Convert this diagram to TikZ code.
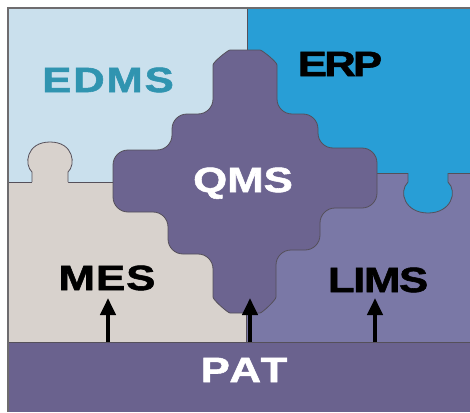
\documentclass[tikz,border=0pt]{standalone}
\usepackage{fontspec}
\setmainfont{Liberation Sans}
\newfontfamily\lblfam{Liberation Sans}[FakeStretch=1.25,FakeBold=1.6]
\usetikzlibrary{arrows.meta}
\definecolor{edmsbg}{RGB}{202,224,237}
\definecolor{erpbg}{RGB}{40,158,214}
\definecolor{qmsbg}{RGB}{108,100,144}
\definecolor{mesbg}{RGB}{216,210,205}
\definecolor{limsbg}{RGB}{122,120,166}
\definecolor{patbg}{RGB}{106,98,142}
\definecolor{edmstxt}{RGB}{48,148,176}
\definecolor{edgecol}{RGB}{85,80,90}
\definecolor{framecol}{RGB}{110,108,110}
\newcommand\lblfont[1]{\lblfam\bfseries\fontsize{35}{35}\selectfont\addfontfeature{LetterSpace=#1}}
\begin{document}
\begin{tikzpicture}[x=1pt,y=-1pt,
  edge/.style={draw=edgecol, line width=0.8pt},
  lbl/.style={anchor=base, inner sep=0pt},
  uparrow/.style={line width=4pt, -{Triangle[width=15pt,length=17pt]}}]
\useasboundingbox (0,0) rectangle (470,412);
\fill[white] (0,0) rectangle (470,412);
% regions
\fill[edmsbg] (7,7) rectangle (247,182);
\fill[erpbg] (247,7) rectangle (470,173);
\fill[mesbg] (7,182) rectangle (246,342);
\fill[limsbg] (246,173) rectangle (470,342);
\draw[edge] (247,7) -- (247,70);
\draw[edge] (7,182) -- (120,182);
\draw[edge] (370,173) -- (470,173);
\draw[edge] (246,300) -- (246,342);
% knob of MES into EDMS
\fill[mesbg] (32,183) -- (32,172) .. controls (24,165) and (26,142) .. (50,142) .. controls (74,142) and (76,165) .. (68,172) -- (68,183) -- cycle;
\draw[edge] (32,182) -- (32,172) .. controls (24,165) and (26,142) .. (50,142) .. controls (74,142) and (76,165) .. (68,172) -- (68,182);
% knob of ERP into LIMS
\fill[erpbg] (408,172) -- (408,182) .. controls (398,192) and (405,213) .. (428,213) .. controls (451,213) and (458,192) .. (448,182) -- (448,172) -- cycle;
\draw[edge] (408,173) -- (408,182) .. controls (398,192) and (405,213) .. (428,213) .. controls (451,213) and (458,192) .. (448,182) -- (448,173);
% QMS cross piece
\filldraw[fill=qmsbg, edge, rounded corners=15pt]
  (213,114) -- (213,80) .. controls (213,62) and (228,50) .. (245,50)
  .. controls (262,50) and (277,62) .. (277,80) -- (277,114)
  -- (318,114) -- (318,148) -- (377,148) -- (377,208) -- (320,208)
  -- (320,250) -- (276,250) -- (276,282)
  .. controls (276,300) and (262,313) .. (245,313)
  .. controls (228,313) and (213,300) .. (213,282)
  -- (213,254) -- (168,254) -- (168,212) -- (113,212) -- (113,150)
  -- (172,150) -- (172,114) -- cycle;
% PAT band
\fill[patbg] (7,342) rectangle (470,412);
\draw[edge] (7,342) -- (470,342);
% frame
\draw[framecol, line width=2.5pt] (470,8) -- (8,8) -- (8,412);
% labels
\node[lbl, text=edmstxt, font=\lblfont{5}] (edms) at (108,92) {EDMS};
\node[lbl, text=black, font=\lblfont{-8}] (erp) at (340,76) {ERP};
\node[lbl, text=white, font=\lblfont{0}] (qms) at (243,192) {QMS};
\node[lbl, text=black, font=\lblfont{3}] (mes) at (107,290) {MES};
\node[lbl, text=black, font=\lblfont{-4}] (lims) at (378,292) {LIMS};
\node[lbl, text=white, font=\lblfont{8}] (pat) at (244,382) {PAT};
% arrows
\coordinate (p1) at (108,342);
\coordinate (p2) at (250,342);
\coordinate (p3) at (375,342);
\coordinate (t1) at (108,298);
\coordinate (t2) at (250,298);
\coordinate (t3) at (375,298);
\draw[uparrow] (p1) -- (t1);
\draw[uparrow] (p2) -- (t2);
\draw[uparrow] (p3) -- (t3);
\end{tikzpicture}
\end{document}
